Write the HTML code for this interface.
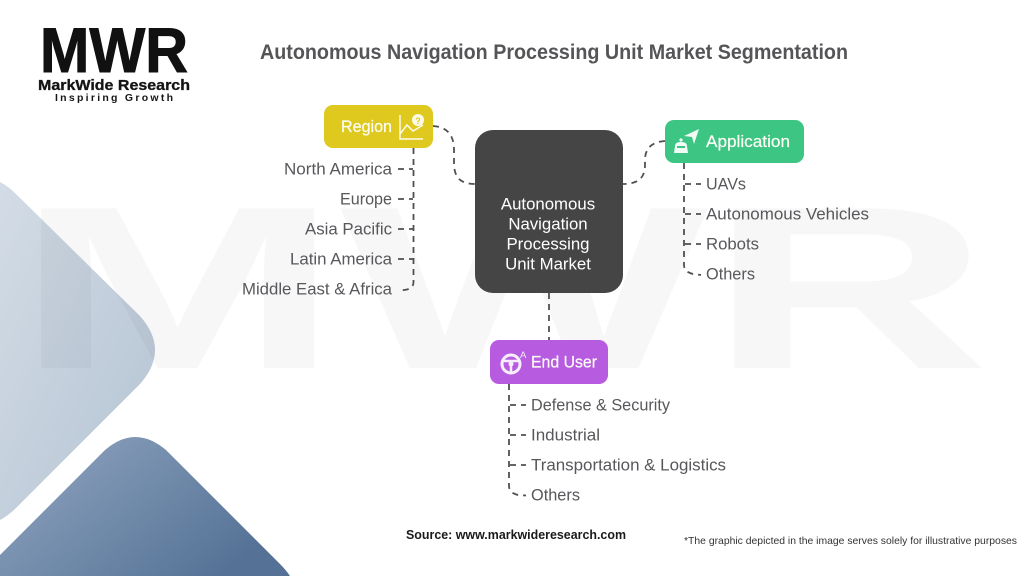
<!DOCTYPE html>
<html>
<head>
<meta charset="utf-8">
<style>
html,body{margin:0;padding:0;background:#fff;}
svg{display:block;}
text{font-family:"Liberation Sans",sans-serif;}
.item{font-size:16.8px;fill:#58585c;}
.pill{font-size:16.8px;fill:#fdfdf5;stroke:#fdfdf5;stroke-width:.2;}
.dash{fill:none;stroke:#505050;stroke-width:1.8;stroke-dasharray:6 5;}
</style>
</head>
<body>
<svg width="1024" height="576" viewBox="0 0 1024 576" xmlns="http://www.w3.org/2000/svg">
<defs>
<linearGradient id="g1" x1="0" y1="0" x2="1" y2="1">
<stop offset="0" stop-color="#d3dce6"/><stop offset="1" stop-color="#b4c3d2"/>
</linearGradient>
<linearGradient id="g2" x1="0" y1="0" x2="1" y2="0.6">
<stop offset="0" stop-color="#93a8c2"/><stop offset="1" stop-color="#557296"/>
</linearGradient>
</defs>
<rect width="1024" height="576" fill="#fff"/>

<!-- background diamonds -->
<path d="M0 182 Q8 186 16 194 L140 316 Q170 350 140 384 L14 510 Q6 517 0 520 Z" fill="url(#g1)"/>
<path d="M0 555 L105 450 Q135 424 166 450 L280 564 Q286 570 290 576 L0 576 Z" fill="url(#g2)"/>

<!-- watermark -->
<text x="15" y="368" font-size="232" font-weight="700" textLength="975" lengthAdjust="spacingAndGlyphs" fill="#000" fill-opacity="0.032">MWR</text>

<!-- logo -->
<text x="40" y="72" font-size="63" font-weight="700" textLength="148" lengthAdjust="spacingAndGlyphs" fill="#111" stroke="#111" stroke-width="1">MWR</text>
<text x="38" y="90" font-size="14.5" font-weight="700" textLength="152" lengthAdjust="spacingAndGlyphs" fill="#151515" stroke="#151515" stroke-width=".3">MarkWide Research</text>
<text x="55" y="101" font-size="10.5" font-weight="700" textLength="118" fill="#151515">Inspiring Growth</text>

<!-- title -->
<text x="260" y="59" font-size="21" font-weight="700" textLength="588" lengthAdjust="spacingAndGlyphs" fill="#555558">Autonomous Navigation Processing Unit Market Segmentation</text>

<!-- connectors -->
<path class="dash" d="M433 126 C448 127 454 136 454 150 L454 163 C454 177 460 184 475 184"/>
<path class="dash" d="M665 141 C652 142 645 148 645 160 L645 165 C645 178 638 184 623 184"/>
<path class="dash" d="M549 293 L549 340"/>
<path class="dash" d="M413.500 148 L413.500 282 Q413.500 289 404 290 L398 290.500"/>
<path class="dash" d="M398 169 L413 169 M398 199 L413 199 M398 229 L413 229 M398 259 L413 259"/>
<path class="dash" d="M684 163 L684 265 Q684 272 693 274 L701 275"/>
<path class="dash" d="M685 184 L701 184 M685 214 L701 214 M685 244 L701 244"/>
<path class="dash" d="M509 384 L509 486 Q509 493 518 495 L526 495.500"/>
<path class="dash" d="M510 405 L526 405 M510 435 L526 435 M510 465 L526 465"/>

<!-- central node -->
<rect x="475" y="130" width="148" height="163" rx="18" fill="#454545"/>
<g font-size="16.8" fill="#fff" text-anchor="middle">
<text x="548" y="209.500">Autonomous</text>
<text x="548" y="229.500">Navigation</text>
<text x="548" y="249.500">Processing</text>
<text x="548" y="269.500">Unit Market</text>
</g>

<!-- Region -->
<rect x="324" y="105" width="109" height="43" rx="9" fill="#dfc91f"/>
<text class="pill" x="341" y="132" textLength="51" lengthAdjust="spacingAndGlyphs">Region</text>
<g fill="none" stroke="#fdfbe6" stroke-width="1.5">
<path d="M400 115 L400 139 L423 139"/>
<path d="M400 134 L407 125 L413 131 L423 125"/>
</g>
<circle cx="418" cy="120" r="6" fill="#fdfbe6"/>
<text x="418" y="124" font-size="9" font-weight="700" text-anchor="middle" fill="#dfc91f">?</text>

<!-- Application -->
<rect x="665" y="120" width="139" height="43" rx="9" fill="#3cc583"/>
<text class="pill" x="706" y="147" textLength="84" lengthAdjust="spacingAndGlyphs">Application</text>
<path d="M684 136 L699 129 L694 144 L692 137 Z" fill="#f2fbf6"/>
<circle cx="681" cy="140" r="1.6" fill="#f2fbf6"/>
<path d="M675 146 Q675 142 681 142 Q687 142 687 146 L688 153 L674 153 Z" fill="#f2fbf6"/>
<rect x="677" y="146" width="8" height="2" fill="#3cc583"/>

<!-- End User -->
<rect x="490" y="340" width="118" height="44" rx="9" fill="#b75ce0"/>
<text class="pill" x="531" y="367.500" textLength="66" lengthAdjust="spacingAndGlyphs">End User</text>
<circle cx="511" cy="364" r="9" fill="none" stroke="#f8eefc" stroke-width="3"/>
<circle cx="511" cy="364" r="2.500" fill="#f8eefc"/>
<path d="M503 361 L519 361 M511 364 L511 373" stroke="#f8eefc" stroke-width="2.500"/>
<text x="520" y="358" font-size="9.500" fill="#f8eefc">A</text>

<!-- Region items -->
<text class="item" x="284" y="174.500" textLength="108" lengthAdjust="spacingAndGlyphs">North America</text>
<text class="item" x="340" y="204.500" textLength="52" lengthAdjust="spacingAndGlyphs">Europe</text>
<text class="item" x="305" y="234.500" textLength="87" lengthAdjust="spacingAndGlyphs">Asia Pacific</text>
<text class="item" x="290" y="264.500" textLength="102" lengthAdjust="spacingAndGlyphs">Latin America</text>
<text class="item" x="242" y="294.500" textLength="150" lengthAdjust="spacingAndGlyphs">Middle East &amp; Africa</text>

<!-- Application items -->
<text class="item" x="706" y="189.500" textLength="40" lengthAdjust="spacingAndGlyphs">UAVs</text>
<text class="item" x="706" y="219.500" textLength="163" lengthAdjust="spacingAndGlyphs">Autonomous Vehicles</text>
<text class="item" x="706" y="249.500" textLength="53" lengthAdjust="spacingAndGlyphs">Robots</text>
<text class="item" x="706" y="279.500" textLength="49" lengthAdjust="spacingAndGlyphs">Others</text>

<!-- End User items -->
<text class="item" x="531" y="410.500" textLength="139" lengthAdjust="spacingAndGlyphs">Defense &amp; Security</text>
<text class="item" x="531" y="440.500" textLength="69" lengthAdjust="spacingAndGlyphs">Industrial</text>
<text class="item" x="531" y="470.500" textLength="195" lengthAdjust="spacingAndGlyphs">Transportation &amp; Logistics</text>
<text class="item" x="531" y="500.500" textLength="49" lengthAdjust="spacingAndGlyphs">Others</text>

<!-- footer -->
<text x="406" y="539" font-size="12.500" font-weight="700" textLength="220" lengthAdjust="spacingAndGlyphs" fill="#1a1a1a">Source: www.markwideresearch.com</text>
<text x="684" y="544" font-size="10.500" textLength="333" lengthAdjust="spacingAndGlyphs" fill="#333">*The graphic depicted in the image serves solely for illustrative purposes</text>
</svg>
</body>
</html>
